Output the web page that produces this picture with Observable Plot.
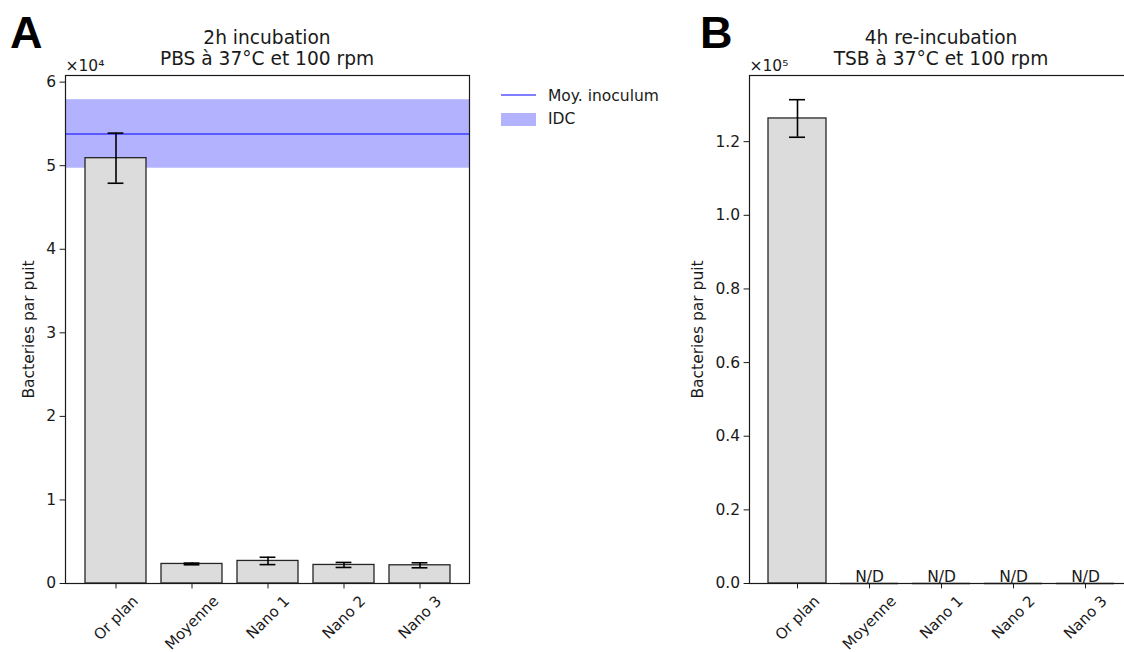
<!DOCTYPE html>
<html>
<head>
<meta charset="utf-8">
<script src="https://cdn.jsdelivr.net/npm/d3@7"></script>
<script src="https://cdn.jsdelivr.net/npm/@observablehq/plot@0.6"></script>
<style>
html, body { margin: 0; padding: 0; background: #fff; }
#root { position: relative; width: 1124px; height: 652px; overflow: hidden; background: #fff;
  font-family: "DejaVu Sans", sans-serif; color: #1a1a1a; }
.panel { position: absolute; top: 0; }
.letter { position: absolute; font-family: "Liberation Sans", Arial, sans-serif; font-weight: bold;
  font-size: 45px; line-height: 45px; color: #000; }
.title { position: absolute; width: 400px; text-align: center; font-size: 18.6px; line-height: 21.4px; white-space: nowrap; }
.legtext { position: absolute; font-size: 15.5px; line-height: 18px; white-space: nowrap; }
</style>
</head>
<body>
<div id="root"></div>
<script>
// ---------- data ----------
const categories = ["Or plan", "Moyenne", "Nano 1", "Nano 2", "Nano 3"];

// Panel A : 2h incubation (bacteries par puit)
const valuesA = [50900, 2340, 2700, 2220, 2180];
const errorsA = [3000, 100, 440, 300, 300];
const inoculumMean = 53800;
const inoculumLow = 49700;
const inoculumHigh = 57900;
const yTicksA = [0, 10000, 20000, 30000, 40000, 50000, 60000];

// Panel B : 4h re-incubation
const valuesB = [126300, 0, 0, 0, 0];
const errorsB = [5100, 0, 0, 0, 0];
const detectedB = [true, false, false, false, false];
const yTicksB = [0, 20000, 40000, 60000, 80000, 100000, 120000];

const titleA = ["2h incubation", "PBS à 37°C et 100 rpm"];
const titleB = ["4h re-incubation", "TSB à 37°C et 100 rpm"];
const yLabel = "Bacteries par puit";
const offsetA = "×10⁴";
const offsetB = "×10⁵";
const legendLabels = ["Moy. inoculum", "IDC"];
const ndLabel = "N/D";

// ---------- tables ----------
const dataA = categories.map((c, i) => ({cat: c, v: valuesA[i], lo: valuesA[i] - errorsA[i], hi: valuesA[i] + errorsA[i]}));
const dataB = categories.map((c, i) => ({cat: c, v: valuesB[i], lo: valuesB[i] - errorsB[i], hi: valuesB[i] + errorsB[i], detected: detectedB[i]}));
const yMaxA = Math.max(inoculumHigh, d3.max(dataA, d => d.hi)) * 1.05;
const yMaxB = d3.max(dataB, d => d.hi) * 1.05;

const root = document.getElementById("root");
const common = {fontFamily: "DejaVu Sans", fontSize: "15.5px", color: "#1a1a1a", background: "transparent", overflow: "visible"};
const barFill = "#dcdcdc", barStroke = "#262626";

// rotated category labels, matplotlib style: rotated box centred under the tick, its top just below the tick
const labelSize = 15;
const ctx = document.createElement("canvas").getContext("2d");
ctx.font = `${labelSize}px "DejaVu Sans"`;
function xLabelMarks(gapBelowFrame) {
  const H = labelSize * 1.164;
  return categories.map(c => {
    const L = ctx.measureText(c).width;
    return Plot.text([c], {
      x: d => d, frameAnchor: "bottom", rotate: -45, textAnchor: "middle", lineAnchor: "middle",
      fontSize: labelSize, dy: gapBelowFrame + (L + H) * Math.SQRT1_2 / 2
    });
  });
}

const plotA = Plot.plot({
  width: 480, height: 652,
  marginTop: 75, marginBottom: 69, marginLeft: 65, marginRight: 11,
  x: {type: "band", domain: categories, paddingInner: 0.2, paddingOuter: 0.24},
  y: {domain: [0, yMaxA]},
  style: common,
  marks: [
    Plot.rect([{lo: inoculumLow, hi: inoculumHigh}], {y1: "lo", y2: "hi", fill: "#0000ff", fillOpacity: 0.3}),
    Plot.ruleY([inoculumMean], {stroke: "#0000ff", strokeOpacity: 0.5, strokeWidth: 2}),
    Plot.barY(dataA, {x: "cat", y: "v", fill: barFill, stroke: barStroke, strokeWidth: 1.3}),
    Plot.ruleX(dataA, {x: "cat", y1: "lo", y2: "hi", stroke: "#000", strokeWidth: 1.6}),
    Plot.tickY(dataA, {x: "cat", y: "lo", stroke: "#000", strokeWidth: 1.6, inset: 22.6}),
    Plot.tickY(dataA, {x: "cat", y: "hi", stroke: "#000", strokeWidth: 1.6, inset: 22.6}),
    Plot.frame({stroke: "#1a1a1a", strokeWidth: 1.2}),
    Plot.axisY({ticks: yTicksA, tickFormat: d => String(d / 1e4), tickSize: 5.4, tickPadding: 4, label: null}),
    Plot.axisX({tickSize: 5.4, tickFormat: () => "", label: null}),
    ...xLabelMarks(9),
    Plot.text([offsetA], {frameAnchor: "top-left", textAnchor: "start", lineAnchor: "bottom", dy: -4.3}),
    Plot.text([yLabel], {frameAnchor: "left", rotate: -90, textAnchor: "middle", lineAnchor: "middle", dx: -36.5})
  ]
});
plotA.classList.add("panel");
plotA.style.left = "0px";
root.appendChild(plotA);

const plotB = Plot.plot({
  width: 450, height: 652,
  marginTop: 75, marginBottom: 69, marginLeft: 59, marginRight: 8.2,
  x: {type: "band", domain: categories, paddingInner: 0.2, paddingOuter: 0.24},
  y: {domain: [0, yMaxB]},
  style: common,
  marks: [
    Plot.barY(dataB.filter(d => d.detected), {x: "cat", y: "v", fill: barFill, stroke: barStroke, strokeWidth: 1.3}),
    Plot.tickY(dataB.filter(d => !d.detected), {x: "cat", y: "v", stroke: barStroke, strokeWidth: 1.3}),
    Plot.ruleX(dataB.filter(d => d.detected), {x: "cat", y1: "lo", y2: "hi", stroke: "#000", strokeWidth: 1.6}),
    Plot.tickY(dataB.filter(d => d.detected), {x: "cat", y: "lo", stroke: "#000", strokeWidth: 1.6, inset: 21}),
    Plot.tickY(dataB.filter(d => d.detected), {x: "cat", y: "hi", stroke: "#000", strokeWidth: 1.6, inset: 21}),
    Plot.frame({stroke: "#1a1a1a", strokeWidth: 1.2}),
    Plot.axisY({ticks: yTicksB, tickFormat: d => d3.format(".1f")(d / 1e5), tickSize: 5.4, tickPadding: 4, label: null}),
    Plot.axisX({tickSize: 5.4, tickFormat: () => "", label: null}),
    Plot.text(dataB.filter(d => !d.detected), {x: "cat", y: "v", text: () => ndLabel, textAnchor: "middle", lineAnchor: "bottom", dy: -2}),
    ...xLabelMarks(9),
    Plot.text([offsetB], {frameAnchor: "top-left", textAnchor: "start", lineAnchor: "bottom", dy: -4.3}),
    Plot.text([yLabel], {frameAnchor: "left", rotate: -90, textAnchor: "middle", lineAnchor: "middle", dx: -51})
  ]
});
plotB.classList.add("panel");
plotB.style.left = "690px";
root.appendChild(plotB);

// ---------- HTML text: panel letters, titles, legend ----------
function addDiv(cls, html, left, top, extra) {
  const d = document.createElement("div");
  d.className = cls;
  d.innerHTML = html;
  d.style.left = left + "px";
  d.style.top = top + "px";
  if (extra) Object.assign(d.style, extra);
  root.appendChild(d);
  return d;
}
addDiv("letter", "A", 10, 9.6);
addDiv("letter", "B", 700, 9.6);
addDiv("title", titleA.join("<br>"), 67, 27);
addDiv("title", titleB.join("<br>"), 741, 27);

// legend
addDiv("", "", 501, 94.3, {position: "absolute", width: "35px", height: "0px", borderTop: "2px solid rgba(0,0,255,0.5)"});
addDiv("legtext", legendLabels[0], 548, 87.3);
addDiv("", "", 501, 113, {position: "absolute", width: "35px", height: "12.5px", background: "rgba(0,0,255,0.3)"});
addDiv("legtext", legendLabels[1], 548, 110.3);
</script>
</body>
</html>
